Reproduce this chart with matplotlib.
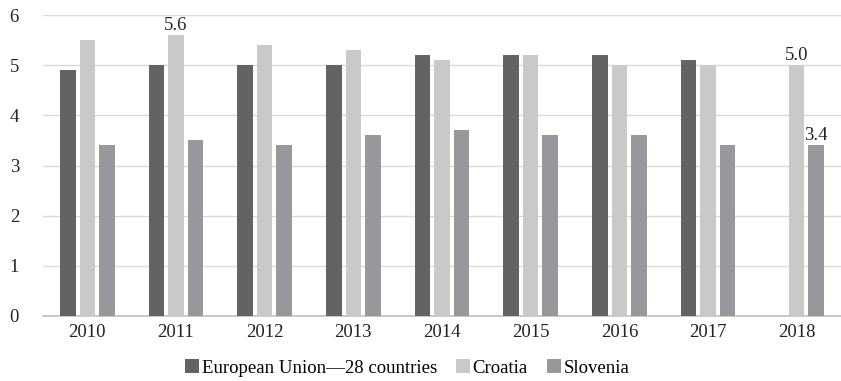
import numpy as np
import matplotlib
matplotlib.use("Agg")
import matplotlib.pyplot as plt
from matplotlib.patches import Patch

years = ["2010", "2011", "2012", "2013", "2014", "2015", "2016", "2017", "2018"]
eu28 = [4.9, 5.0, 5.0, 5.0, 5.2, 5.2, 5.2, 5.1, np.nan]
croatia = [5.5, 5.6, 5.4, 5.3, 5.1, 5.2, 5.0, 5.0, 5.0]
slovenia = [3.4, 3.5, 3.4, 3.6, 3.7, 3.6, 3.6, 3.4, 3.4]
series_names = ["European Union\u201428 countries", "Croatia", "Slovenia"]
colors = ["#636365", "#c8c9cb", "#97989b"]

plt.rcParams["font.family"] = ["Liberation Serif", "DejaVu Serif"]
FS = 13.5

fig = plt.figure(figsize=(8.41, 3.81), dpi=100)
ax = fig.add_axes([43 / 841, 1 - 316 / 381, 798 / 841, 301 / 381])

x = np.arange(len(years))
width = 0.175
step = 0.22
bars = []
for i, (vals, c) in enumerate(zip([eu28, croatia, slovenia], colors)):
    b = ax.bar(x + (i - 1) * step, vals, width=width, color=c, zorder=3)
    bars.append(b)

# value labels on selected bars
def label(bar_container, idx):
    rect = bar_container[idx]
    h = rect.get_height()
    ax.text(rect.get_x() + rect.get_width() / 2, h + 0.03, f"{h:.1f}",
            ha="center", va="bottom", fontsize=FS, color="#222222", zorder=4)

label(bars[1], 1)
label(bars[1], 8)
label(bars[2], 8)

ax.set_xlim(-0.5, len(years) - 0.5)
ax.set_ylim(0, 6)
ax.set_yticks(range(0, 7))
ax.set_xticks(x)
ax.set_xticklabels(years)
ax.tick_params(axis="both", length=0, labelsize=FS, colors="#222222")
ax.tick_params(axis="y", pad=24)
ax.tick_params(axis="x", pad=6)
for lbl in ax.get_yticklabels():
    lbl.set_horizontalalignment("left")
ax.yaxis.grid(True, color="#d9d9d9", linewidth=1, zorder=0)
for s in ["top", "right", "left"]:
    ax.spines[s].set_visible(False)
ax.spines["bottom"].set_color("#bfbfbf")
ax.spines["bottom"].set_linewidth(1.2)

handles = [Patch(facecolor=c, edgecolor="none") for c in colors]
fig.legend(handles, series_names, loc="center", bbox_to_anchor=(407 / 841, 1 - 368 / 381),
           ncol=3, frameon=False, fontsize=FS, handlelength=0.75, handleheight=0.75,
           handletextpad=0.15, columnspacing=1.0)

fig.savefig("out.png", dpi=100)
